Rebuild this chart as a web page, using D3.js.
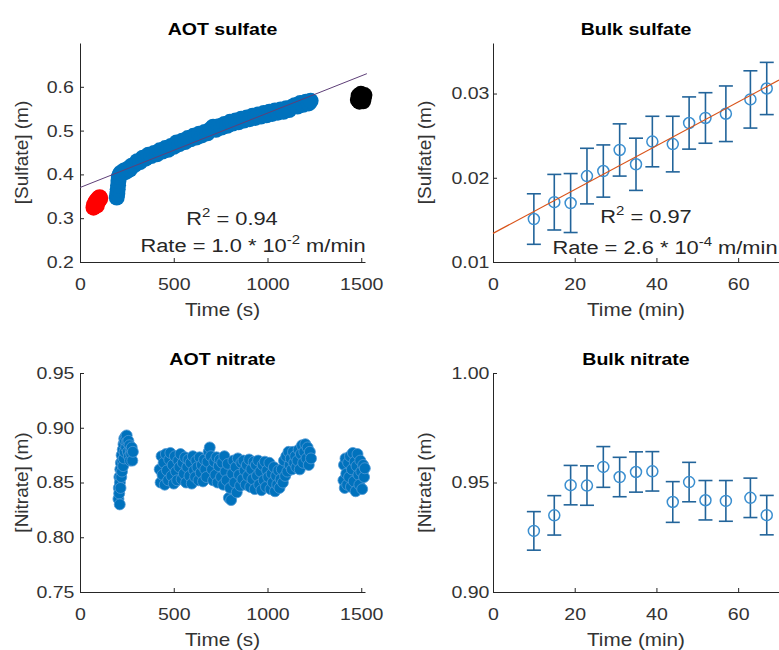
<!DOCTYPE html>
<html>
<head>
<meta charset="utf-8">
<script src="https://cdn.jsdelivr.net/npm/d3@7"></script>
<style>
body { margin: 0; background: #fff; }
svg text { font-family: "Liberation Sans", Arial, sans-serif; }
/* the reference figure is a bit stretched sideways */
svg text.wide { transform-box: fill-box; transform-origin: center; transform: scaleX(1.15); }
</style>
</head>
<body>
<script>
// ---- AOT sulfate (time in s, concentration in m) ----
var sulfateStart = [[72,0.324],[75,0.331],[78,0.327],[81,0.336],[84,0.333],[87,0.340],
  [90,0.329],[93,0.343],[96,0.338],[99,0.346],[102,0.341],[105,0.348],[108,0.345]];
var sulfateRun = [[196,0.347],[199,0.356],[201,0.366],[203,0.375],[205,0.385],[207,0.394],
  [212,0.400],[218,0.404],[225,0.402],[235,0.409],[245,0.406],[255,0.413],[265,0.411],
  [275,0.420],[290,0.421],[305,0.430],[320,0.428],[335,0.438],[350,0.436],[365,0.445],
  [380,0.442],[395,0.449],[410,0.446],[425,0.455],[440,0.452],[455,0.460],[470,0.456],
  [485,0.465],[500,0.463],[515,0.473],[530,0.469],[545,0.477],[560,0.474],[575,0.483],
  [590,0.480],[605,0.488],[620,0.484],[635,0.493],[650,0.489],[665,0.497],[680,0.494],
  [695,0.503],[710,0.509],[725,0.502],[740,0.510],[755,0.507],[770,0.515],[785,0.511],
  [800,0.520],[815,0.516],[830,0.523],[845,0.519],[860,0.527],[875,0.523],[890,0.530],
  [905,0.526],[920,0.534],[935,0.529],[950,0.537],[965,0.532],[980,0.540],[995,0.535],
  [1010,0.543],[1025,0.538],[1040,0.546],[1055,0.541],[1070,0.548],[1085,0.543],
  [1100,0.551],[1115,0.547],[1130,0.554],[1145,0.558],[1160,0.555],[1175,0.563],
  [1190,0.559],[1205,0.566],[1220,0.562],[1230,0.568]];
var sulfateEnd = [[1482,0.570],[1486,0.580],[1490,0.566],[1494,0.576],[1498,0.584],
  [1502,0.570],[1506,0.578],[1510,0.567],[1514,0.575],[1517,0.581]];
var sulfateFit = [[0,0.370],[1530,0.630]];
var sulfateTicksX = [0, 500, 1000, 1500];
var sulfateTicksY = [0.2, 0.3, 0.4, 0.5, 0.6];

// ---- Bulk sulfate (time in min) ----
var bulkTime = [10, 15, 19, 23, 27, 31, 35, 39, 44, 48, 52, 57, 63, 67];
var bulkSulfate = [0.0151, 0.0171, 0.0170, 0.0202, 0.0208, 0.0233, 0.0216, 0.0243,
  0.0240, 0.0265, 0.0271, 0.0276, 0.0293, 0.0306];
var bulkSulfateErr = [0.0030, 0.0033, 0.0035, 0.0033, 0.0031, 0.0031, 0.0031, 0.0030,
  0.0033, 0.0031, 0.0030, 0.0033, 0.0034, 0.0031];
var bulkSulfateFit = [[0,0.0134],[70,0.0316]];
var bulkTicksX = [0, 20, 40, 60];
var bulkSulfateTicksY = [0.01, 0.02, 0.03];

// ---- AOT nitrate ----
var nitrateA = [[205,0.835],[207,0.845],[209,0.840],[210,0.855],[212,0.830],[213,0.850],
  [215,0.862],[216,0.845],[218,0.868],[220,0.855],[222,0.875],[224,0.860],[226,0.870],
  [228,0.880],[230,0.865],[232,0.885],[234,0.872],[236,0.890],[238,0.878],[240,0.888],
  [243,0.892],[246,0.882],[249,0.893],[252,0.887],[255,0.878],[258,0.888],[261,0.874],
  [264,0.884],[267,0.870],[270,0.880],[273,0.876],[276,0.882],[279,0.870],[282,0.878]];
var nitrateB = [[425,0.862],[430,0.850],[435,0.874],[440,0.857],[446,0.868],[452,0.848],
  [458,0.876],[464,0.861],[470,0.852],[476,0.871],[482,0.877],[488,0.856],[494,0.866],
  [500,0.849],[506,0.874],[512,0.860],[518,0.852],[524,0.870],[530,0.864],[536,0.876],
  [542,0.853],[548,0.868],[554,0.858],[560,0.873],[566,0.850],[572,0.864],[578,0.871],
  [584,0.856],[590,0.868],[596,0.849],[602,0.874],[608,0.861],[614,0.855],[620,0.870],
  [626,0.864],[632,0.852],[638,0.873],[644,0.859],[650,0.866],[656,0.851],[662,0.871],
  [668,0.862],[674,0.855],[680,0.869],[686,0.878],[692,0.882],[698,0.874],[704,0.862],
  [710,0.852],[716,0.869],[722,0.857],[728,0.873],[734,0.850],[740,0.865],[746,0.871],
  [752,0.855],[758,0.868],[764,0.848],[770,0.874],[776,0.860],[782,0.852],[788,0.867],
  [794,0.836],[800,0.845],[806,0.834],[812,0.858],[818,0.870],[824,0.850],[830,0.864],
  [836,0.841],[842,0.872],[848,0.857],[854,0.847],[860,0.868],[866,0.853],[872,0.870],
  [878,0.861],[884,0.848],[890,0.866],[896,0.856],[902,0.871],[908,0.846],[914,0.862],
  [920,0.853],[926,0.869],[932,0.844],[938,0.866],[944,0.856],[950,0.870],[956,0.848],
  [962,0.860],[968,0.843],[974,0.866],[980,0.852],[986,0.869],[992,0.846],[998,0.861],
  [1004,0.855],[1010,0.868],[1016,0.844],[1022,0.858],[1028,0.850],[1034,0.864],
  [1040,0.842],[1046,0.856],[1052,0.848],[1058,0.861],[1064,0.845],[1070,0.853],
  [1076,0.862],[1082,0.850],[1088,0.870],[1094,0.856],[1100,0.874],[1106,0.860],
  [1112,0.878],[1118,0.866],[1124,0.872],[1130,0.862],[1136,0.878],[1142,0.868],
  [1148,0.874],[1154,0.864],[1160,0.870],[1166,0.880],[1172,0.862],[1178,0.876],
  [1184,0.884],[1190,0.868],[1196,0.878],[1202,0.885],[1208,0.872],[1214,0.882],
  [1220,0.866],[1226,0.878],[1232,0.872]];
var nitrateC = [[1405,0.852],[1408,0.866],[1412,0.845],[1416,0.872],[1420,0.858],
  [1425,0.848],[1430,0.868],[1435,0.855],[1440,0.874],[1445,0.846],[1450,0.862],
  [1455,0.877],[1460,0.851],[1465,0.869],[1470,0.842],[1475,0.865],[1480,0.876],
  [1485,0.857],[1490,0.848],[1495,0.870],[1500,0.860],[1505,0.844],[1510,0.866],
  [1515,0.855],[1519,0.863]];
var nitrateTicksY = [0.75, 0.80, 0.85, 0.90, 0.95];

// ---- Bulk nitrate ----
var bulkNitrate = [0.9279, 0.9350, 0.9488, 0.9486, 0.9571, 0.9525, 0.9548, 0.9551,
  0.9411, 0.9502, 0.9419, 0.9416, 0.9430, 0.9351];
var bulkNitrateErr = [0.0088, 0.0090, 0.0090, 0.0090, 0.0093, 0.0090, 0.0092, 0.0090,
  0.0093, 0.0090, 0.0090, 0.0093, 0.0090, 0.0090];
var bulkNitrateTicksY = [0.90, 0.95, 1.00];

var blue = "#0072BD";
var W = 779, H = 650;
var svg = d3.select("body").append("svg").attr("width", W).attr("height", H);

function panel(o) {
  var x = d3.scaleLinear().domain(o.xDomain).range([o.left, o.right]);
  var y = d3.scaleLinear().domain(o.yDomain).range([o.bottom, o.top]);
  var g = svg.append("g");

  var ax = g.append("g").attr("transform", "translate(0," + o.bottom + ")")
    .call(d3.axisBottom(x).tickValues(o.xTicks).tickFormat(d3.format("d"))
      .tickSizeInner(-4).tickSizeOuter(0).tickPadding(16));
  var ay = g.append("g").attr("transform", "translate(" + o.left + ",0)")
    .call(d3.axisLeft(y).tickValues(o.yTicks).tickFormat(d3.format(o.yFormat))
      .tickSizeInner(-4).tickSizeOuter(0).tickPadding(o.yPad));
  [ax, ay].forEach(function(a) {
    a.select(".domain").attr("stroke", "#262626");
    a.selectAll(".tick line").attr("stroke", "#262626");
    a.selectAll(".tick text").attr("class", "wide").attr("fill", "#333").style("font-size", "17px");
  });

  var cx = (o.left + o.right) / 2;
  g.append("text").attr("class", "wide").attr("x", cx).attr("y", o.top - 8)
    .attr("text-anchor", "middle").style("font-size", "17px").style("font-weight", "bold")
    .attr("fill", "#000").text(o.title);
  g.append("text").attr("class", "wide").attr("x", cx).attr("y", o.bottom + 54)
    .attr("text-anchor", "middle").style("font-size", "18px").attr("fill", "#333")
    .text(o.xLabel);
  g.append("text")
    .attr("transform", "translate(" + (o.left - o.yLabelGap) + "," + ((o.top + o.bottom) / 2) + ") rotate(-90)")
    .attr("text-anchor", "middle").style("font-size", "19px").attr("fill", "#333")
    .text(o.yLabel);
  return {g: g, x: x, y: y};
}

function notes(p, r2, rate, exp, cx1, cx2, y1, y2) {
  var t1 = p.g.append("text").attr("class", "wide").attr("x", cx1).attr("y", y1)
    .attr("text-anchor", "middle").style("font-size", "19px").attr("fill", "#262626");
  t1.append("tspan").text("R");
  t1.append("tspan").attr("dy", -8).style("font-size", "13px").text("2");
  t1.append("tspan").attr("dy", 8).text(" = " + r2);
  var t2 = p.g.append("text").attr("class", "wide").attr("x", cx2).attr("y", y2)
    .attr("text-anchor", "middle").style("font-size", "19px").attr("fill", "#262626");
  t2.append("tspan").text("Rate = " + rate + " * 10");
  t2.append("tspan").attr("dy", -8).style("font-size", "13px").text(exp);
  t2.append("tspan").attr("dy", 8).text(" m/min");
}

// AOT sulfate
var p1 = panel({left: 80, right: 365, top: 43, bottom: 262, xDomain: [0, 1520], yDomain: [0.2, 0.7],
  xTicks: sulfateTicksX, yTicks: sulfateTicksY, yFormat: ".1f", yPad: 8, yLabelGap: 52,
  title: "AOT sulfate", xLabel: "Time (s)", yLabel: "[Sulfate] (m)"});
[[sulfateStart, "#ff0000"], [sulfateRun, blue], [sulfateEnd, "#000"]].forEach(function(s) {
  p1.g.append("g").selectAll("circle").data(s[0]).enter().append("circle")
    .attr("cx", function(d) { return p1.x(d[0]); })
    .attr("cy", function(d) { return p1.y(d[1]); })
    .attr("r", 8).attr("fill", s[1]);
});
p1.g.append("path").datum(sulfateFit)
  .attr("d", d3.line().x(function(d) { return p1.x(d[0]); }).y(function(d) { return p1.y(d[1]); }))
  .attr("stroke", "#5e3f78").attr("stroke-width", 1).attr("fill", "none");
notes(p1, "0.94", "1.0", "-2", 232, 253, 225, 252);

// Bulk sulfate
var p2 = panel({left: 493, right: 779, top: 43, bottom: 262, xDomain: [0, 70], yDomain: [0.01, 0.036],
  xTicks: bulkTicksX, yTicks: bulkSulfateTicksY, yFormat: ".2f", yPad: 6, yLabelGap: 62,
  title: "Bulk sulfate", xLabel: "Time (min)", yLabel: "[Sulfate] (m)"});

function errorbars(p, vals, errs) {
  var eb = p.g.append("g").attr("stroke", "#22649a").attr("stroke-width", 1.6).attr("fill", "none");
  bulkTime.forEach(function(t, i) {
    var xx = p.x(t), y0 = p.y(vals[i] - errs[i]), y1 = p.y(vals[i] + errs[i]);
    eb.append("line").attr("x1", xx).attr("x2", xx).attr("y1", y0).attr("y2", y1);
    eb.append("line").attr("x1", xx - 7).attr("x2", xx + 7).attr("y1", y0).attr("y2", y0);
    eb.append("line").attr("x1", xx - 7).attr("x2", xx + 7).attr("y1", y1).attr("y2", y1);
  });
  p.g.append("g").selectAll("circle").data(vals).enter().append("circle")
    .attr("cx", function(d, i) { return p.x(bulkTime[i]); })
    .attr("cy", function(d) { return p.y(d); })
    .attr("r", 5.5).attr("fill", "none").attr("stroke", "#3b8fd0").attr("stroke-width", 1.5);
}
errorbars(p2, bulkSulfate, bulkSulfateErr);
p2.g.append("path").datum(bulkSulfateFit)
  .attr("d", d3.line().x(function(d) { return p2.x(d[0]); }).y(function(d) { return p2.y(d[1]); }))
  .attr("stroke", "#D95319").attr("stroke-width", 1.2).attr("fill", "none");
notes(p2, "0.97", "2.6", "-4", 646, 665, 223, 254);

// AOT nitrate
var p3 = panel({left: 80, right: 365, top: 373, bottom: 592, xDomain: [0, 1520], yDomain: [0.75, 0.95],
  xTicks: sulfateTicksX, yTicks: nitrateTicksY, yFormat: ".2f", yPad: 8, yLabelGap: 52,
  title: "AOT nitrate", xLabel: "Time (s)", yLabel: "[Nitrate] (m)"});
p3.g.append("g").selectAll("circle").data(nitrateA.concat(nitrateB, nitrateC)).enter().append("circle")
  .attr("cx", function(d) { return p3.x(d[0]); })
  .attr("cy", function(d) { return p3.y(d[1]); })
  .attr("r", 5.5).attr("fill", blue).attr("stroke", "#4f98d4").attr("stroke-width", 0.8);

// Bulk nitrate
var p4 = panel({left: 493, right: 779, top: 373, bottom: 592, xDomain: [0, 70], yDomain: [0.90, 1.00],
  xTicks: bulkTicksX, yTicks: bulkNitrateTicksY, yFormat: ".2f", yPad: 6, yLabelGap: 62,
  title: "Bulk nitrate", xLabel: "Time (min)", yLabel: "[Nitrate] (m)"});
errorbars(p4, bulkNitrate, bulkNitrateErr);
</script>
</body>
</html>
